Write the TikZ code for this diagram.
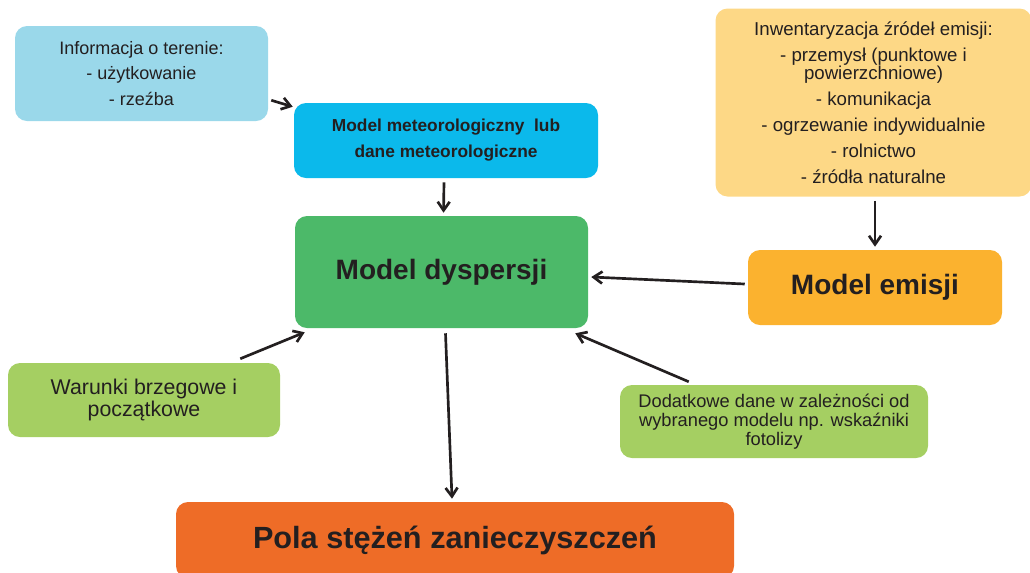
\documentclass[tikz,border=0pt]{standalone}
\usepackage{fontspec}
\setmainfont{Liberation Sans}
\usetikzlibrary{arrows.meta,calc}
\definecolor{txt}{HTML}{231F20}
\definecolor{cinfo}{HTML}{9AD8EA}
\definecolor{cmeteo}{HTML}{0BB9EB}
\definecolor{cdisp}{HTML}{4CB969}
\definecolor{cinv}{HTML}{FDD886}
\definecolor{cemis}{HTML}{FBB22F}
\definecolor{clgreen}{HTML}{A5CF62}
\definecolor{cpola}{HTML}{EE6C27}
\tikzset{
  box/.style={rounded corners=9pt, inner sep=0pt, align=center, text=txt},
  conn/.style={draw=txt, line width=2pt, -{Straight Barb[length=6.5pt,width=9pt,line width=2pt]}}
}
\begin{document}
\begin{tikzpicture}[x=0.75pt,y=-0.75pt]
\useasboundingbox (0,0) rectangle (1030,572);
\node[box, fill=cinfo, minimum width=189.75pt, minimum height=71.25pt,
      font=\fontsize{13.5}{19}\selectfont] (info) at (141.5,73.5)
  {Informacja o terenie:\\- użytkowanie\\- rzeźba};
\node[box, fill=cmeteo, minimum width=228pt, minimum height=56.25pt,
      font=\bfseries\fontsize{13}{19.5}\selectfont] (meteo) at (446,140.5)
  {Model meteorologiczny\ \ lub\\dane meteorologiczne};
\node[box, fill=cdisp, minimum width=219.75pt, minimum height=84pt,
      font=\bfseries\fontsize{21}{25}\selectfont] (disp) at (441.5,272)
  {Model dyspersji};
\node[box, fill=cinv, minimum width=237pt, minimum height=141pt,
      font=\fontsize{14}{13.5}\selectfont] (inv) at (873.5,102.5)
  {Inwentaryzacja źródeł emisji:\\[6pt]- przemysł (punktowe i\\powierzchniowe)\\[6pt]- komunikacja\\[6pt]- ogrzewanie indywidualnie\\[6pt]- rolnictwo\\[6pt]- źródła naturalne};
\node[box, fill=cemis, minimum width=190.5pt, minimum height=56.25pt,
      font=\bfseries\fontsize{21}{25}\selectfont] (emis) at (875,287.5)
  {Model emisji};
\node[box, fill=clgreen, minimum width=204pt, minimum height=55.5pt,
      font=\fontsize{16}{16.5}\selectfont] (war) at (144,400)
  {Warunki brzegowe i\\początkowe};
\node[box, fill=clgreen, minimum width=231pt, minimum height=54.75pt,
      font=\fontsize{13.7}{14.3}\selectfont] (dod) at (774,421.5)
  {Dodatkowe dane w zależności od\\wybranego modelu np. wskaźniki\\fotolizy};
\node[box, fill=cpola, minimum width=418.5pt, minimum height=57pt,
      font=\bfseries\fontsize{23}{27}\selectfont] (pola) at (455,540)
  {Pola stężeń zanieczyszczeń};
\draw[conn] ($(info.south east)+(3,-21)$) -- ($(meteo.north west)+(-1,4)$);
\draw[conn] ($(meteo.south)+(-2,4)$) -- ($(disp.north)+(2,-3)$);
\draw[conn] ($(inv.south)+(1.5,4)$) -- ($(emis.north)+(0,-3)$);
\draw[conn] ($(emis.west)+(-3,-3.5)$) -- ($(disp.east)+(3,5)$);
\draw[conn] ($(war.north east)+(-40,-4)$) -- ($(disp.south west)+(10,4)$);
\draw[conn] ($(dod.north west)+(69,-3)$) -- ($(disp.south east)+(-13,5)$);
\draw[conn] ($(disp.south)+(4,5)$) -- ($(pola.north)+(-3,-3)$);
\end{tikzpicture}
\end{document}
